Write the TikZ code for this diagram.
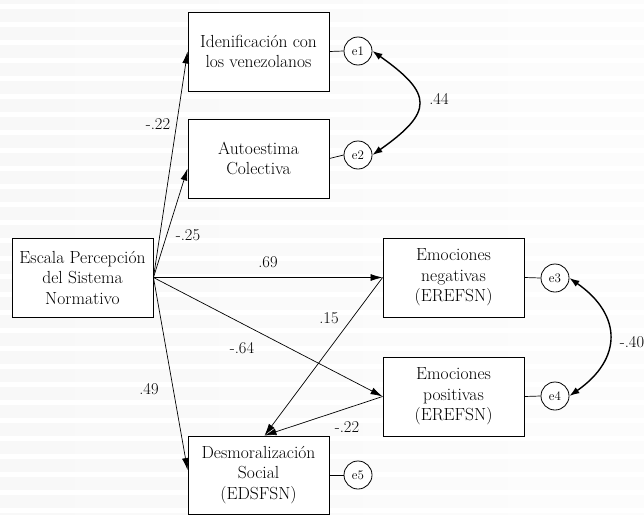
\documentclass[tikz,border=0pt]{standalone}
\usetikzlibrary{arrows.meta,calc}
\begin{document}
\begin{tikzpicture}[x=1pt,y=-1pt,
  box/.style={draw=black,fill=white,line width=0.9pt,minimum width=141pt,minimum height=79pt,
    inner sep=2pt,align=center,font=\fontsize{17.5}{20.5}\selectfont},
  err/.style={draw=black,fill=white,circle,line width=0.8pt,minimum size=28pt,inner sep=0pt,
    font=\fontsize{13}{14}\selectfont},
  path/.style={line width=0.7pt,-{Latex[length=12pt,width=7pt]}},
  cov/.style={line width=1.4pt,{Latex[length=10pt,width=7pt]}-{Latex[length=10pt,width=7pt]}},
  lab/.style={font=\fontsize{16.5}{18}\selectfont,inner sep=0pt}]
\useasboundingbox (0,0) rectangle (644,514);
% background stripes
\foreach \k in {-1,0,...,28}{
  \shade[left color=gray!5.5,right color=gray!2] (0,{9+18*\k}) rectangle (644,{21+18*\k});
}
% nodes
\node[box] (esc) at (82.5,277.5) {Escala Percepción\\del Sistema\\Normativo};
\node[box] (ide) at (258.5,51.5) {Idenificación con\\los venezolanos};
\node[box] (aut) at (258.5,158.5) {Autoestima\\Colectiva};
\node[box] (neg) at (453.5,277.5) {Emociones\\negativas\\(EREFSN)};
\node[box] (pos) at (453.5,396.5) {Emociones\\positivas\\(EREFSN)};
\node[box,minimum height=78pt] (des) at (258.5,475) {Desmoralización\\Social\\(EDSFSN)};
\node[err] (e1) at (358,51) {e1};
\node[err] (e2) at (358,155) {e2};
\node[err] (e3) at (555,278) {e3};
\node[err] (e4) at (555,396) {e4};
\node[err] (e5) at (358,475) {e5};
% error links
\draw[line width=0.7pt] (ide.east) -- (e1.west);
\draw[line width=0.7pt] (aut.east) -- (e2.west);
\draw[line width=0.7pt] (neg.east) -- (e3.west);
\draw[line width=0.7pt] (pos.east) -- (e4.west);
\draw[line width=0.7pt] (des.east) -- (e5.west);
% paths
\coordinate (o) at (esc.east);
\coordinate (dt) at ($(des.north)+(6,0)$);
\draw[path] (o) -- (ide.west);
\draw[path] (o) -- ($(aut.west)+(0,10)$);
\draw[path] (o) -- (neg.west);
\draw[path] (o) -- (pos.west);
\draw[path] (o) -- ($(des.west)+(0,-5)$);
\draw[path] (neg.west) -- (dt);
\draw[path] (pos.west) -- (dt);
% covariances
\draw[cov] (e1.east) .. controls +(61,43) and +(61,-43) .. (e2.east);
\draw[cov] (e3.east) .. controls +(53,37) and +(53,-37) .. (e4.east);
% labels
\node[lab] (l1) at (158,124) {-.22};
\node[lab] (l2) at (188,235) {-.25};
\node[lab] (l3) at (268,262) {.69};
\node[lab] (l4) at (329,318) {.15};
\node[lab] (l5) at (242,348) {-.64};
\node[lab] (l6) at (149,389) {.49};
\node[lab] (l7) at (347,427) {-.22};
\node[lab] (l8) at (439,99) {.44};
\node[lab] (l9) at (632,342) {-.40};
\end{tikzpicture}
\end{document}
